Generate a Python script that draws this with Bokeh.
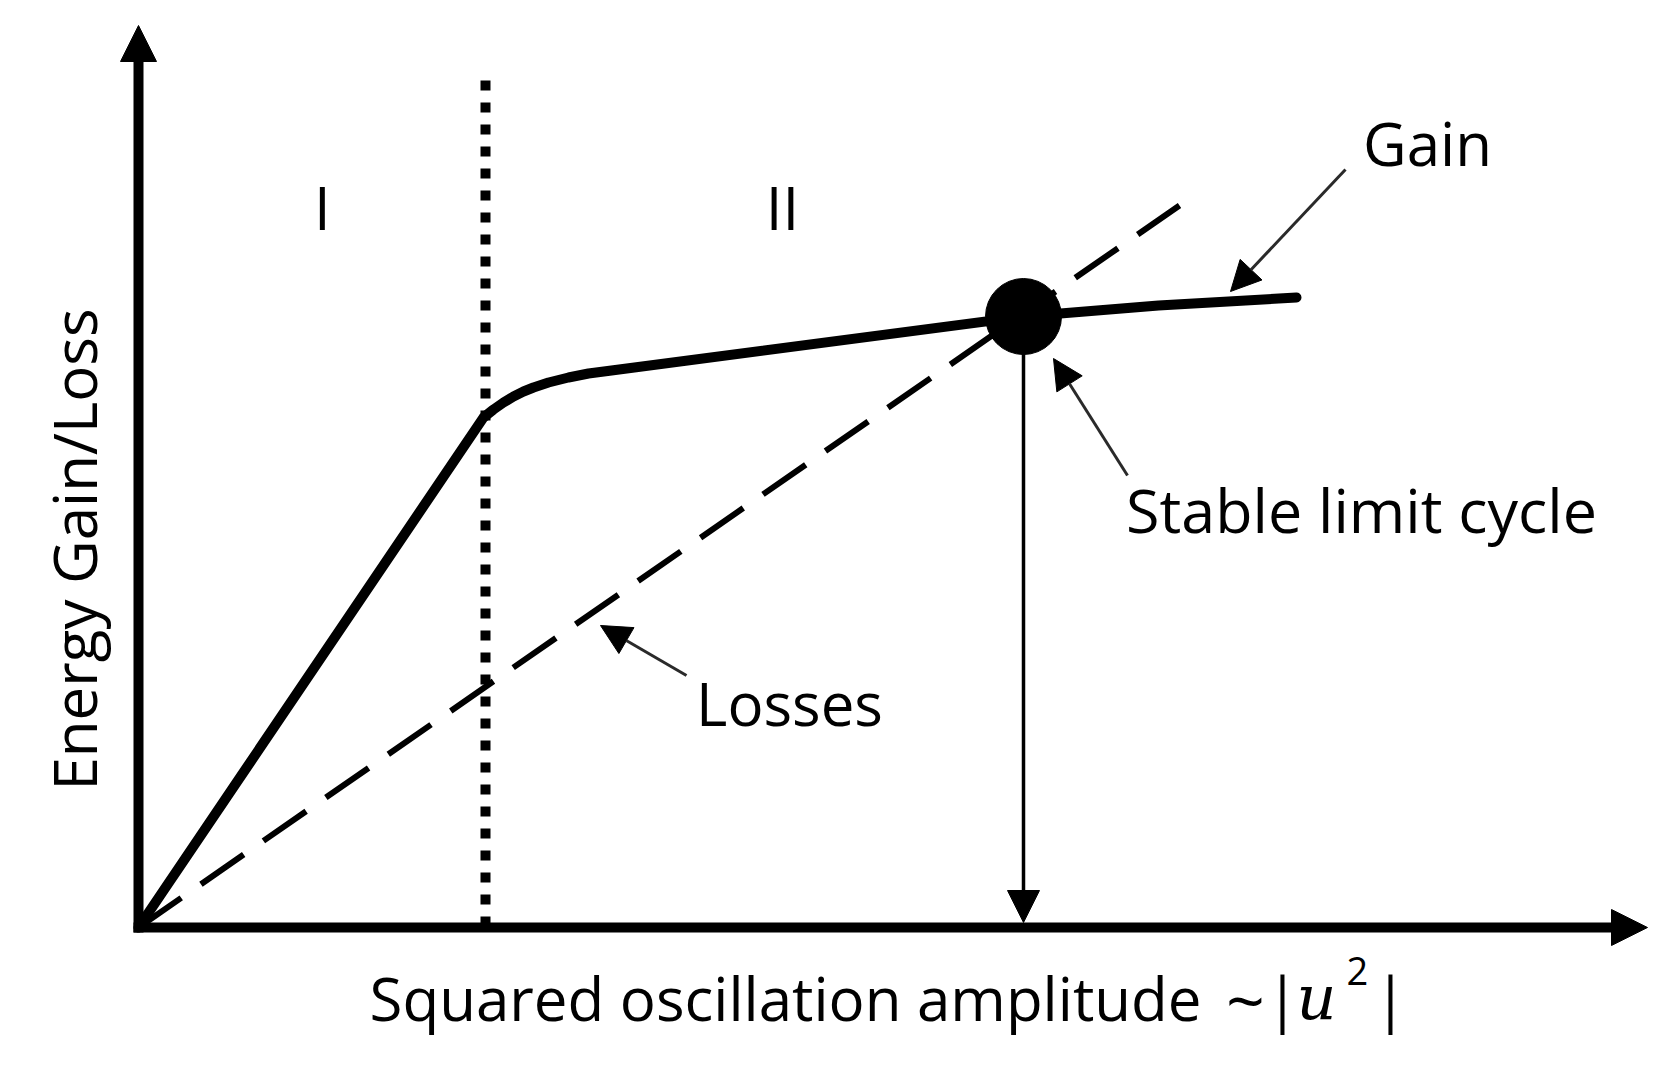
import math
from bokeh.plotting import figure
from bokeh.models import Arrow, NormalHead, ColumnDataSource
from bokeh.embed import file_html
from bokeh.resources import INLINE
from bokeh.core.properties import value

# ---------------- data (schematic units) ----------------
gain_x = [0.0, 3.45, 3.55, 3.65, 3.75, 3.85, 3.95, 4.10, 4.30, 4.50, 4.73, 8.85, 10.20, 11.58]
gain_y = [0.0, 5.10, 5.18, 5.25, 5.31, 5.36, 5.40, 5.45, 5.50, 5.54, 5.57, 6.11, 6.22, 6.30]
loss_x = [0.0, 10.41]
loss_y = [0.0, 7.22]
regime_boundary_x = [3.47, 3.47]
regime_boundary_y = [8.47, 0.0]
limit_cycle_x = [8.85]
limit_cycle_y = [6.11]
x_axis_end = 15.09
y_axis_end = 9.02

regime_labels = ["I", "II"]
annot_labels = ["Gain", "Stable limit cycle", "Losses"]
x_label_main = "Squared oscillation amplitude"
x_label_tilde = "~"
x_label_open = "|"
x_label_var = "u"
x_label_exp = "2"
x_label_close = "|"
y_label = "Energy Gain/Loss"

# ---------------- layout ----------------
regime_x = [1.84, 6.44]
regime_y = [7.21, 7.21]
annot_x = [12.89, 12.23, 6.51]
annot_y = [7.85, 4.18, 2.25]
annot_size = ["60px", "61px", "60px"]
ptr_x0 = [12.07, 9.89, 5.48]
ptr_y0 = [7.58, 4.52, 2.52]
ptr_x1 = [10.92, 9.15, 4.62]
ptr_y1 = [6.36, 5.69, 3.02]

FONT = "Open Sans"
FS = "60px"

W, H = 1664, 1050
p = figure(width=W, height=H, x_range=(-1.38, 15.26), y_range=(-1.23, 9.27),
           output_backend="svg", toolbar_location=None,
           x_axis_location=None, y_axis_location=None, min_border=0,
           outline_line_color=None, background_fill_color="white",
           border_fill_color="white")
p.grid.grid_line_color = None

# axes with arrow heads
p.add_layout(Arrow(end=NormalHead(size=36, fill_color="black", line_color="black"),
                   x_start=-0.05, y_start=0, x_end=x_axis_end, y_end=0,
                   line_width=10, line_color="black"))
p.add_layout(Arrow(end=NormalHead(size=36, fill_color="black", line_color="black"),
                   x_start=0, y_start=-0.05, x_end=0, y_end=y_axis_end,
                   line_width=10, line_color="black"))

# regime boundary (dotted)
p.line(regime_boundary_x, regime_boundary_y, line_width=10, line_dash="10 12",
       line_color="black")

# losses (dashed)
p.line(loss_x, loss_y, line_width=6, line_dash="52 24", line_color="black")

# gain curve
p.line(gain_x, gain_y, line_width=10, line_join="round", line_cap="round",
       line_color="black")

# stable limit cycle point
p.scatter(limit_cycle_x, limit_cycle_y, size=76, fill_color="black", line_color="black")

# vertical arrow from limit cycle to x axis
p.add_layout(Arrow(end=NormalHead(size=32, fill_color="black", line_color="black"),
                   x_start=limit_cycle_x[0], y_start=limit_cycle_y[0],
                   x_end=limit_cycle_x[0], y_end=0.05,
                   line_width=3.5, line_color="black"))

# pointer arrows
src = ColumnDataSource(dict(x0=ptr_x0, y0=ptr_y0, x1=ptr_x1, y1=ptr_y1))
p.add_layout(Arrow(end=NormalHead(size=30, fill_color="black", line_color="black"),
                   source=src, x_start="x0", y_start="y0", x_end="x1", y_end="y1",
                   line_width=3, line_color="#2a2a2a"))

# texts
p.text(regime_x, regime_y, text=regime_labels, text_font=value(FONT),
       text_font_size=FS, text_align="center", text_baseline="alphabetic",
       text_color="black")
for tx, ty, tt, ts in zip(annot_x, annot_y, annot_labels, annot_size):
    p.text([tx], [ty], text=[tt], text_font=value(FONT), text_font_size=ts,
           text_align="center", text_baseline="alphabetic", text_color="black")

# x axis label (pieces)
p.text([10.63], [-0.70], text=[x_label_main], text_font=value(FONT),
       text_font_size=FS, text_align="right", text_baseline="alphabetic",
       text_color="black")
p.text([11.07], [-0.72], text=[x_label_tilde], text_font=value(FONT),
       text_font_size="68px", text_align="center", text_baseline="alphabetic",
       text_color="black")
p.text([11.44], [-0.70], text=[x_label_open], text_font=value(FONT),
       text_font_size=FS, text_align="center", text_baseline="alphabetic",
       text_color="black")
p.text([11.58], [-0.70], text=[x_label_var], text_font=value("DejaVu Serif"),
       text_font_style="italic", text_font_size="62px", text_align="left",
       text_baseline="alphabetic", text_color="black")
p.text([12.08], [-0.43], text=[x_label_exp], text_font=value(FONT),
       text_font_size="38px", text_align="left", text_baseline="alphabetic",
       text_color="black")
p.text([12.52], [-0.70], text=[x_label_close], text_font=value(FONT),
       text_font_size=FS, text_align="center", text_baseline="alphabetic",
       text_color="black")

p.text([-0.65], [3.78], text=[y_label], angle=math.pi / 2, text_font=value(FONT),
       text_font_size=FS, text_align="center", text_baseline="alphabetic",
       text_color="black")

open("out.html", "w").write(file_html(p, INLINE))
